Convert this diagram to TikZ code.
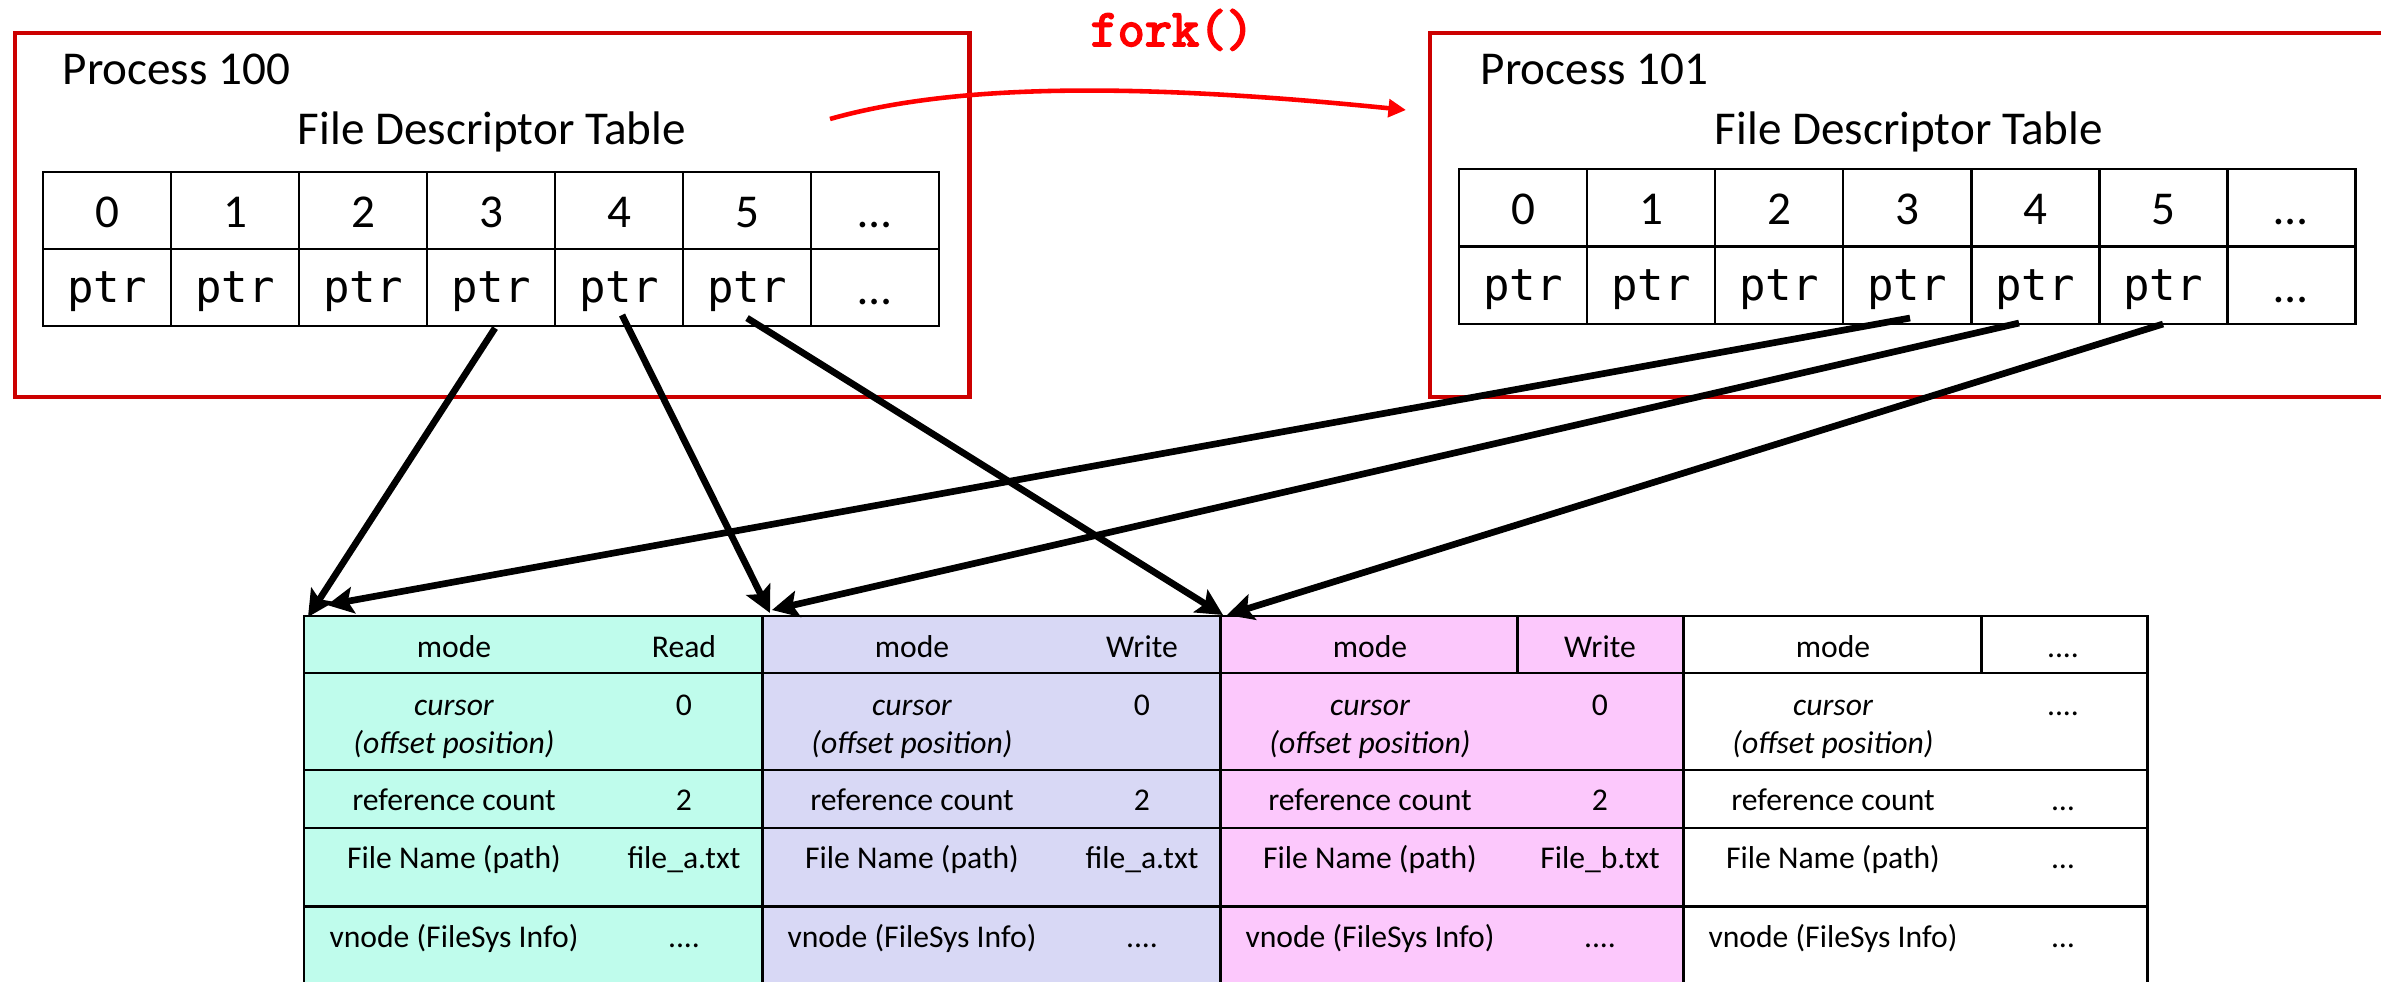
\documentclass[tikz,border=0pt]{standalone}
\usepackage{fontspec}
\setmainfont{Carlito}
\newfontfamily\ptrfont{DejaVu Sans Mono}
\newfontfamily\forkfont[FakeBold=3.5]{Latin Modern Mono}
\usetikzlibrary{arrows.meta,calc}
\definecolor{procred}{RGB}{204,0,0}
\definecolor{forkred}{RGB}{255,0,0}
\definecolor{tealfill}{RGB}{191,252,236}
\definecolor{lavfill}{RGB}{216,216,245}
\definecolor{pinkfill}{RGB}{252,200,252}
\newcommand\fourdots{.\kern0pt.\kern0pt.\kern0pt.}

\begin{document}
\begin{tikzpicture}[x=0.01cm,y=-0.01cm,
  procbox/.style={draw=procred,line width=1.2pt,anchor=north west,inner sep=0pt,outer sep=0pt},
  lbl/.style={inner sep=0pt,font=\fontsize{13.4}{16}\selectfont},
  fdcell/.style={draw=black,line width=0.8pt,minimum width=1.28cm,minimum height=0.77cm,
    inner sep=0pt,outer sep=0pt,anchor=north west,font=\fontsize{13.4}{16}\selectfont},
  numcell/.style={fdcell,text height=0.33cm,text depth=0pt},
  ptrcell/.style={fdcell,text height=0.30cm,text depth=0pt,font=\ptrfont\fontsize{12.5}{15}\selectfont},
  filecol/.style={draw=black,line width=0.85pt,anchor=north west,inner sep=0pt,outer sep=0pt,minimum height=4cm},
  tline/.style={draw=black,line width=0.85pt},
  ftxt/.style={anchor=base,inner sep=0pt,font=\fontsize{9}{11}\selectfont},
  ptrarrow/.style={draw=black,line width=1.9pt,-{Stealth[length=7.5pt,width=7.5pt,inset=1.5pt]}},
  forkarrow/.style={draw=forkred,line width=1.3pt,-{Triangle[length=5pt,width=5pt]}},
  forklbl/.style={anchor=base,inner sep=0pt,text=forkred,font=\forkfont\fontsize{15}{18}\selectfont}]

\useasboundingbox (0,0) rectangle (2381,982);

% process boxes (the second one runs past the right margin)
\node[procbox,minimum width=9.54cm,minimum height=3.64cm] (P100) at (15,33) {};
\node[procbox,minimum width=9.8cm,minimum height=3.64cm] (P101) at (1430,33) {};

\node[lbl,anchor=base west] (name100) at (62,85) {Process 100};
\node[lbl,anchor=base] (fdt100) at (492,145) {File Descriptor Table};
\node[lbl,anchor=base west] (name101) at (1480,85) {Process 101};
\node[lbl,anchor=base] (fdt101) at (1909,145) {File Descriptor Table};

% file descriptor tables
\foreach \i in {0,1,2,3,4,5} {
  \node[numcell] (L\i) at (43+128*\i,172) {\i};
  \node[ptrcell] (Lp\i) at (43+128*\i,249) {ptr};
  \node[numcell] (R\i) at (1459+128*\i,169) {\i};
  \node[ptrcell] (Rp\i) at (1459+128*\i,247) {ptr};
}
\node[numcell] (L6) at (811,172) {…};
\node[numcell] (Lp6) at (811,249) {…};
\node[numcell] (R6) at (2227,169) {…};
\node[numcell] (Rp6) at (2227,247) {…};

% fork
\node[forklbl] (forktxt) at (1172,46) {fork()};
\coordinate (forkstart) at (830,119);
\coordinate (forkend) at (1406,110);
\draw[forkarrow] (forkstart) .. controls (960,82) and (1150,84) .. (forkend);

% open file table
\node[filecol,fill=tealfill,minimum width=4.58cm] (ft1) at (304,616) {};
\node[filecol,fill=lavfill,minimum width=4.58cm] (ft2) at (762,616) {};
\node[filecol,fill=pinkfill,minimum width=4.63cm] (ft3) at (1220,616) {};
\node[filecol,fill=white,minimum width=4.64cm] (ft4) at (1683,616) {};

\foreach \y in {673,770,828,906} {
  \draw[tline] (ft1.west |- 0,\y) -- (ft4.east |- 0,\y);
}
\draw[tline] (1517,616) -- (1517,673);
\draw[tline] (1981,616) -- (1981,673);

\foreach \xl/\md/\cur/\rc/\fn/\vn [count=\k] in
  {304/Read/0/2/file\_a.txt/\fourdots,
   762/Write/0/2/file\_a.txt/\fourdots,
   1220/Write/0/2/File\_b.txt/\fourdots,
   1683/\fourdots/\fourdots/…/…/…} {
  \node[ftxt] (mk\k) at (\xl+150,657) {mode};
  \node[ftxt] (mv\k) at (\xl+380,657) {\md};
  \node[ftxt] (ck\k) at (\xl+150,715) {\itshape cursor};
  \node[ftxt] (ok\k) at (\xl+150,753) {\itshape (offset position)};
  \node[ftxt] (cv\k) at (\xl+380,715) {\cur};
  \node[ftxt] (rk\k) at (\xl+150,810) {reference count};
  \node[ftxt] (rv\k) at (\xl+380,810) {\rc};
  \node[ftxt] (nk\k) at (\xl+150,868) {File Name (path)};
  \node[ftxt] (nv\k) at (\xl+380,868) {\fn};
  \node[ftxt] (vk\k) at (\xl+150,947) {vnode (FileSys Info)};
  \node[ftxt] (vv\k) at (\xl+380,947) {\vn};
}

% pointers into the open file table
\draw[ptrarrow] ($(Lp3.south)+(4,2)$) -- ($(ft1.north west)+(4,1)$);
\draw[ptrarrow] ($(Lp4.south)+(3,-11)$) -- ($(ft2.north west)+(8,-3)$);
\draw[ptrarrow] ($(Lp5.south)+(0,-8)$) -- ($(ft3.north west)+(3,-1)$);
\draw[ptrarrow] ($(Rp3.south)+(3,-6)$) -- ($(ft1.north west)+(23,-11)$);
\draw[ptrarrow] ($(Rp4.south)+(-16,-1)$) -- ($(ft2.north west)+(10,-6)$);
\draw[ptrarrow] (Rp5.south) -- ($(ft3.north west)+(7,-1)$);

\end{tikzpicture}
\end{document}
